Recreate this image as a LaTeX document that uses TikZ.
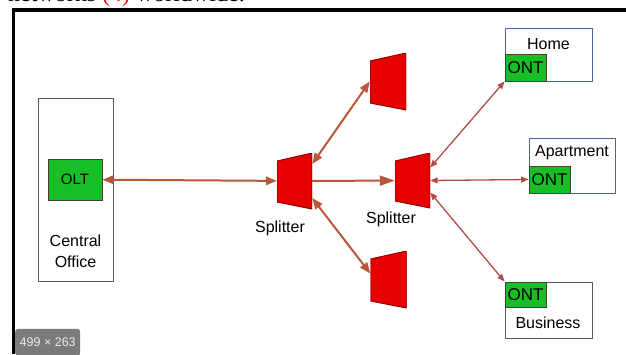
\documentclass[tikz,border=0pt]{standalone}
\usepackage{fontspec}
\usepackage{xcolor}
\setmainfont{Liberation Sans}
\newfontfamily\headserif{Liberation Serif}
\usetikzlibrary{positioning, arrows.meta}

\definecolor{ontgreen}{RGB}{24,190,38}
\definecolor{splitred}{RGB}{230,0,0}
\definecolor{linkbrown}{RGB}{186,86,58}
\definecolor{droplinkc}{RGB}{176,78,72}
\definecolor{premblue}{RGB}{82,98,164}
\definecolor{boxgray}{RGB}{90,90,90}
\definecolor{badgegray}{RGB}{122,122,122}

\tikzset{
  box/.style={draw=boxgray, line width=0.9pt, inner sep=0pt},
  ont/.style={draw=black!75, fill=ontgreen, line width=0.9pt, inner sep=0pt, minimum width=41pt, minimum height=27pt, font=\fontsize{17}{19}\selectfont},
  textlabel/.style={inner sep=0pt, font=\fontsize{16}{21}\selectfont},
  splitter/.style={inner sep=0pt, path picture={
      \filldraw[fill=splitred, draw=red!60!black, line width=1pt]
        (path picture bounding box.north east) -- (path picture bounding box.south east)
        -- ([yshift=7pt]path picture bounding box.south west) -- ([yshift=-8pt]path picture bounding box.north west) -- cycle;}},
  link/.style={draw=linkbrown, line width=2pt, {Triangle[length=11pt, width=8.5pt]}-{Triangle[length=11pt, width=8.5pt]}},
  droplink/.style={draw=droplinkc, line width=1.3pt, {Triangle[length=7.5pt, width=6pt]}-{Triangle[length=7.5pt, width=6pt]}}
}

\begin{document}
\begin{tikzpicture}[x=1pt, y=-1pt]
  \useasboundingbox (0,0) rectangle (626,354);

  \begin{scope}
    \clip (0,0) rectangle (626,354);
    \node[anchor=base west, inner sep=0pt, font=\headserif\fontsize{24}{26}\selectfont] (headline) at (8,1.5) {networks \textcolor{red}{(4)} worldwide.};
  \end{scope}
  \draw[line width=3.5pt] (13.5,354) -- (13.5,10) -- (626,10);

  \node[box, minimum width=75pt, minimum height=183pt] (co) at (75.5,189.5) {};
  \node[ont, minimum width=54pt, minimum height=41pt, font=\fontsize{15}{17}\selectfont] (olt) at (75,179.5) {OLT};
  \node[textlabel, align=center] (colab) at (75.5,251) {Central\\Office};

  \node[splitter, minimum width=35pt, minimum height=56pt] (s1) at (294.5,181) {};
  \node[splitter, minimum width=35pt, minimum height=55pt] (s2) at (412.5,180.5) {};
  \node[splitter, minimum width=36pt, minimum height=57pt] (stop) at (388,81.5) {};
  \node[splitter, minimum width=36pt, minimum height=57pt] (sbot) at (388.5,279.5) {};
  \node[textlabel] (s1lab) at (280,228) {Splitter};
  \node[textlabel] (s2lab) at (391,219) {Splitter};

  \node[box, draw=premblue, minimum width=87pt, minimum height=53pt] (home) at (548.5,54.5) {};
  \node[ont, anchor=south west] (homeont) at (home.south west) {ONT};
  \node[textlabel] (homelab) at (548.5,44) {Home};

  \node[box, draw=premblue, minimum width=86pt, minimum height=55pt] (apt) at (572,165.5) {};
  \node[ont, anchor=south west] (aptont) at (apt.south west) {ONT};
  \node[textlabel] (aptlab) at (572,153) {Apartment};

  \node[box, minimum width=87pt, minimum height=56pt] (bus) at (548.5,310) {};
  \node[ont, anchor=north west, minimum height=25pt] (busont) at (bus.north west) {ONT};
  \node[textlabel] (buslab) at (548,323) {Business};

  \draw[link] (olt) -- (s1);
  \draw[link, -{Triangle[length=15pt, width=10pt]}] (s1) -- (s2);
  \draw[link] ([yshift=17pt]s1.east) -- (stop.west);
  \draw[link] ([yshift=-17pt]s1.east) -- ([yshift=6pt]sbot.west);
  \draw[droplink] ([yshift=13pt]s2.east) -- (homeont.south west);
  \draw[droplink] (s2.east) -- (aptont.west);
  \draw[droplink] ([yshift=-12pt]s2.east) -- (bus.north west);

  \node[fill=badgegray, text=white!92!black, rounded corners=3pt, anchor=south west, minimum width=65pt, minimum height=27pt, inner sep=0pt, font=\fontsize{12.5}{14}\selectfont] (badge) at (15,356) {499 × 263};
\end{tikzpicture}
\end{document}
